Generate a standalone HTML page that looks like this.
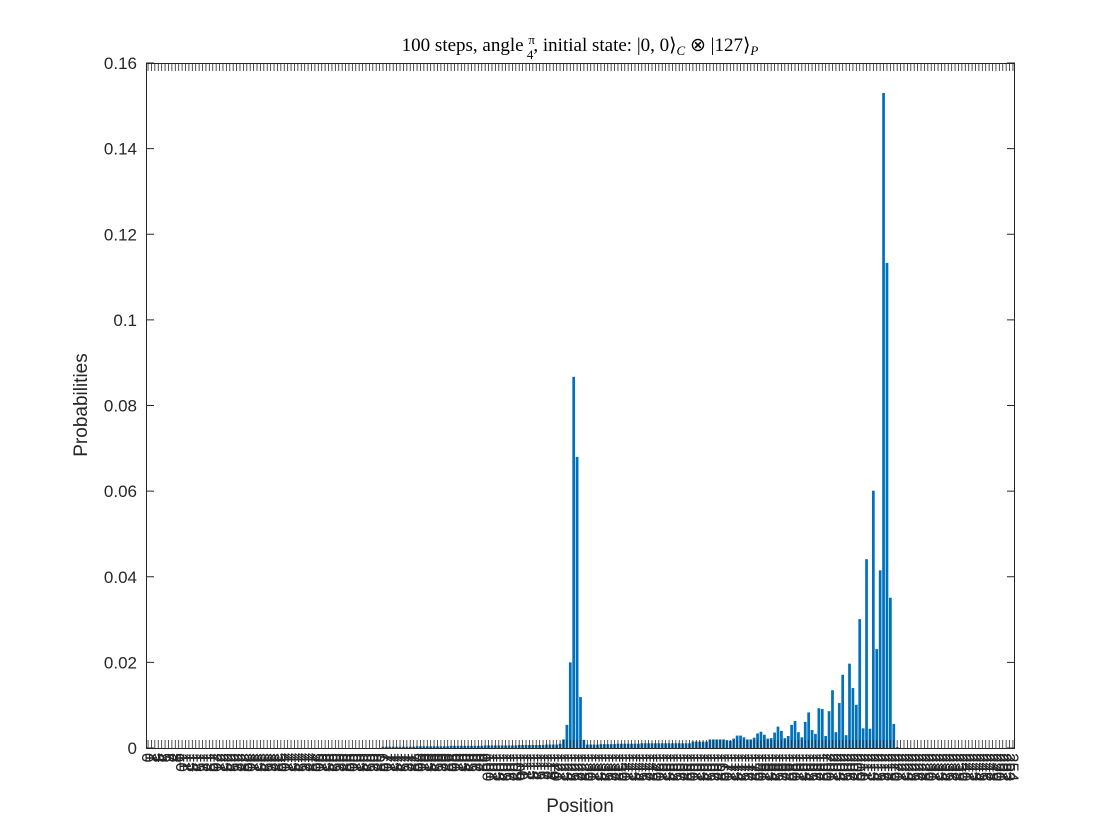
<!DOCTYPE html>
<html><head><meta charset="utf-8">
<style>
html,body{margin:0;padding:0;background:#fff;}
svg{display:block;font-family:"Liberation Sans",Arial,sans-serif;}
</style></head>
<body>
<svg id="chart" width="1120" height="840" viewBox="0 0 1120 840">
  <rect x="0" y="0" width="1120" height="840" fill="#fff"/>
  <text x="580" y="51" text-anchor="middle" font-family="'Liberation Serif',serif" font-size="19" fill="#000">100 steps, angle <tspan font-size="13" dy="-7">π</tspan><tspan dx="-8" dy="15" font-size="13">4</tspan><tspan dy="-8">, initial state: |0, 0⟩</tspan><tspan font-style="italic" font-size="13" dy="4">C</tspan><tspan dy="-4"> ⊗ |127⟩</tspan><tspan font-style="italic" font-size="13" dy="4">P</tspan></text>
  <g id="bars"></g>
  <g id="xticks"></g>
  <g id="yticks"></g>
  <rect x="146.5" y="63.5" width="868" height="685" fill="none" stroke="#262626" stroke-width="1"/>
  <text x="580" y="812" text-anchor="middle" font-size="19" fill="#262626">Position</text>
  <text x="87" y="405" text-anchor="middle" font-size="19" fill="#262626" transform="rotate(-90 87 405)">Probabilities</text>
</svg>
<script>
const probabilities = [
0,0,0,0,0,0,0,0,0,0,0,0,0,0,0,0,0,0,0,0,0,0,0,0,0,0,0,0,0,0,0,0,0,0,0,0,0,0,0,0,0,0,0,0,0,0,0,0,0,0,0,0,0,0,0,0,0,0,0,0,0,0,0,0,0,0,0,0,0,
0.0003,0.0003,0.0003,0.0003,0.0003,0.0003,0.0003,0.0003,0.0003,0.0003,0.0004,0.0004,0.0004,0.0004,0.0004,0.0004,0.0004,0.0004,0.0004,0.0004,0.0005,0.0005,0.0005,0.0005,0.0005,0.0005,0.0005,0.0005,0.0005,0.0005,0.0006,0.0006,0.0006,0.0006,0.0006,0.0006,0.0006,0.0006,0.0006,0.0006,0.0007,0.0007,0.0007,0.0007,0.0007,0.0007,0.0007,0.0007,0.0008,0.0008,0.0008,
0.0008,0.001,0.002,0.0054,0.020,0.0867,0.068,0.0119,0.0019,
0.0008,0.0008,0.0008,0.0008,0.0009,0.0009,0.0009,0.0009,0.0009,0.001,0.001,0.001,0.001,0.001,0.001,0.001,
0.0011,0.0011,0.0011,0.0011,0.0011,0.0011,0.0011,0.0011,0.0011,0.0011,0.0011,0.0011,0.0011,0.0011,0.0011,
0.0015,0.0015,0.0015,0.0015,0.0015,0.002,0.002,0.002,0.002,0.002,
0.0018,0.0017,0.0022,0.0029,0.0029,0.0025,0.0020,0.0020,0.0024,0.0034,0.0038,0.0031,0.0022,0.0023,0.0036,0.0050,0.0040,0.0023,
0.0028,0.0054,0.0063,0.0037,0.0025,0.0061,0.0083,0.0042,0.0033,0.0093,0.0091,0.0028,0.0086,0.0135,0.0037,0.0105,0.0171,0.0030,0.0197,0.0140,0.0101,0.0301,0.0046,0.0441,0.0045,0.0601,0.0231,0.0415,0.153,0.1133,0.0351,0.0056,0.0002,
0,0,0,0,0,0,0,0,0,0,0,0,0,0,0,0,0,0,0,0,0,0,0,0,0,0,0,0,0,0,0,0,0,0
];
const positionLabels = probabilities.map((_, i) => String(i));
const yTickValues = [0,0.02,0.04,0.06,0.08,0.1,0.12,0.14,0.16];
const yTickLabels = ["0","0.02","0.04","0.06","0.08","0.1","0.12","0.14","0.16"];

const NS = "http://www.w3.org/2000/svg";
const L = 146, R = 1015, T = 63, B = 748;
const N = probabilities.length;
const xmin = 0.4, xmax = N + 0.6;
const xs = i => L + (i - xmin) / (xmax - xmin) * (R - L);
const ys = v => B - v / 0.16 * (B - T);
const step = (R - L) / (xmax - xmin);

const barsG = document.getElementById('bars');
probabilities.forEach((v, k) => {
  const i = k + 1;
  const w = step * 0.8;
  const r = document.createElementNS(NS, 'rect');
  r.setAttribute('x', xs(i) - w / 2);
  r.setAttribute('y', ys(v));
  r.setAttribute('width', w);
  r.setAttribute('height', Math.max(0, B - ys(v)));
  r.setAttribute('fill', '#0072BD');
  
  
  barsG.appendChild(r);
});

const xg = document.getElementById('xticks');
positionLabels.forEach((lab, k) => {
  const x = xs(k + 1);
  const t1 = document.createElementNS(NS, 'line');
  t1.setAttribute('x1', x); t1.setAttribute('x2', x);
  t1.setAttribute('y1', B); t1.setAttribute('y2', B - 8);
  t1.setAttribute('stroke', '#262626'); t1.setAttribute('stroke-width', '0.8');
  
  
  xg.appendChild(t1);
  const t2 = document.createElementNS(NS, 'line');
  t2.setAttribute('x1', x); t2.setAttribute('x2', x);
  t2.setAttribute('y1', T); t2.setAttribute('y2', T + 8);
  t2.setAttribute('stroke', '#262626'); t2.setAttribute('stroke-width', '0.8');
  
  
  xg.appendChild(t2);
  const tx = document.createElementNS(NS, 'text');
  tx.setAttribute('x', x - 6);
  tx.setAttribute('y', 753);
  tx.setAttribute('font-size', '17');
  tx.setAttribute('fill', '#262626');
  tx.setAttribute('transform', 'rotate(90 ' + (x - 6) + ' 753)');
  
  
  tx.textContent = lab;
  xg.appendChild(tx);
});

const yg = document.getElementById('yticks');
yTickValues.forEach((v, k) => {
  const y = ys(v);
  [[L, L + 8], [R, R - 8]].forEach(p => {
    const ln = document.createElementNS(NS, 'line');
    ln.setAttribute('x1', p[0]); ln.setAttribute('x2', p[1]);
    ln.setAttribute('y1', y); ln.setAttribute('y2', y);
    ln.setAttribute('stroke', '#262626');
    
    
    yg.appendChild(ln);
  });
  const tx = document.createElementNS(NS, 'text');
  tx.setAttribute('x', 137);
  tx.setAttribute('y', y + 6);
  tx.setAttribute('text-anchor', 'end');
  tx.setAttribute('font-size', '17');
  tx.setAttribute('fill', '#262626');
  
  
  tx.textContent = yTickLabels[k];
  yg.appendChild(tx);
});
</script>
</body></html>
